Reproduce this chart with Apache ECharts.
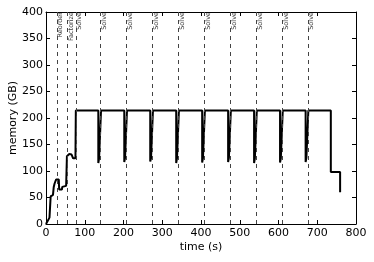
<!DOCTYPE html>
<html>
<head>
<meta charset="utf-8">
<script src="https://cdn.jsdelivr.net/npm/echarts@6/dist/echarts.min.js"></script>
<style>
html,body{margin:0;padding:0;background:#fff;}
#chart{width:374px;height:262px;}
</style>
</head>
<body>
<div id="chart"></div>
<script>
// Memory trace (time in s, memory in GB), drawn as a polyline
const times = [
  0, 9, 12, 13, 18, 20, 22, 25, 26, 33, 34, 41, 42, 45, 47, 52, 54, 56, 58, 60, 63, 66, 69, 70, 76, 77,
  135, 135, 137, 137, 142, 142,
  202, 202, 204, 204, 209, 209,
  269, 269, 271, 271, 276, 276,
  336, 336, 338, 338, 343, 343,
  403, 403, 405, 405, 410, 410,
  470, 470, 472, 472, 477, 477,
  537, 537, 539, 539, 544, 544,
  604, 604, 606, 606, 611, 611,
  670, 670, 672, 672, 677, 677,
  735, 735, 759, 759
];
const memory = [
  0, 12, 52, 55, 55, 70, 76, 78, 84, 84, 65, 65, 70, 68, 72, 72, 128, 131, 127, 132, 129, 131, 130, 124, 124, 214,
  214, 115, 115, 124, 124, 214,
  214, 117, 117, 125, 125, 214,
  214, 118, 118, 124, 124, 214,
  214, 115, 115, 124, 124, 214,
  214, 116, 116, 124, 124, 214,
  214, 117, 117, 125, 125, 214,
  214, 115, 115, 124, 124, 214,
  214, 116, 116, 124, 124, 214,
  214, 117, 117, 125, 125, 214,
  214, 98, 98, 60
];
// Phase markers
const eventTimes = [28, 55, 77, 141, 208, 275, 342, 409, 476, 543, 610, 676];
const eventNames = ['Reorder', 'Factorize', 'Solve', 'Solve', 'Solve', 'Solve', 'Solve', 'Solve', 'Solve', 'Solve', 'Solve', 'Solve'];
// Axes
const xMin = 0, xMax = 800, xStep = 100;
const yMin = 0, yMax = 400, yStep = 50;

const font = 'DejaVu Sans';
const chart = echarts.init(document.getElementById('chart'), null, {renderer: 'canvas'});

const axisCommon = {
  axisLine: {show: true, onZero: false, lineStyle: {color: '#000', width: 1}},
  axisTick: {show: true, inside: true, length: 4, lineStyle: {color: '#000', width: 1}},
  splitLine: {show: false}
};

chart.setOption({
  animation: false,
  backgroundColor: '#fff',
  grid: {left: 46, right: 18, top: 12, bottom: 38, containLabel: false, outerBoundsMode: 'none'},
  xAxis: [
    Object.assign({
      type: 'value', min: xMin, max: xMax, interval: xStep, position: 'bottom',
      name: 'time (s)', nameLocation: 'middle', nameGap: 18, nameMoveOverlap: false,
      nameTextStyle: {fontFamily: font, fontSize: 11, color: '#000'},
      axisLabel: {fontFamily: font, fontSize: 11, color: '#000', margin: 4}
    }, axisCommon),
    Object.assign({
      type: 'value', min: xMin, max: xMax, interval: xStep, position: 'top',
      axisLabel: {show: false}
    }, axisCommon)
  ],
  yAxis: [
    Object.assign({
      type: 'value', min: yMin, max: yMax, interval: yStep, position: 'left',
      name: 'memory (GB)', nameLocation: 'middle', nameGap: 27, nameMoveOverlap: false,
      nameTextStyle: {fontFamily: font, fontSize: 11, color: '#000'},
      axisLabel: {fontFamily: font, fontSize: 11, color: '#000', margin: 3}
    }, axisCommon),
    Object.assign({
      type: 'value', min: yMin, max: yMax, interval: yStep, position: 'right',
      axisLabel: {show: false}
    }, axisCommon)
  ],
  series: [
    {
      type: 'line',
      data: times.map((t, i) => [t, memory[i]]),
      showSymbol: false,
      symbol: 'none',
      smooth: false,
      lineStyle: {color: '#000', width: 2},
      z: 3,
      markLine: {
        silent: true,
        symbol: ['none', 'none'],
        label: {show: false},
        lineStyle: {color: '#444', width: 1, type: [4, 4]},
        data: eventTimes.map(t => ({xAxis: t}))
      }
    },
    {
      type: 'scatter',
      symbolSize: 0,
      data: eventTimes.map(t => [t, yMax]),
      z: 4,
      label: {
        show: true,
        position: [0, 0],
        rotate: 90,
        align: 'right',
        verticalAlign: 'top',
        offset: [0, 0],
        fontFamily: font,
        fontSize: 6.5,
        color: '#000',
        formatter: p => eventNames[p.dataIndex]
      }
    }
  ]
});
</script>
</body>
</html>
